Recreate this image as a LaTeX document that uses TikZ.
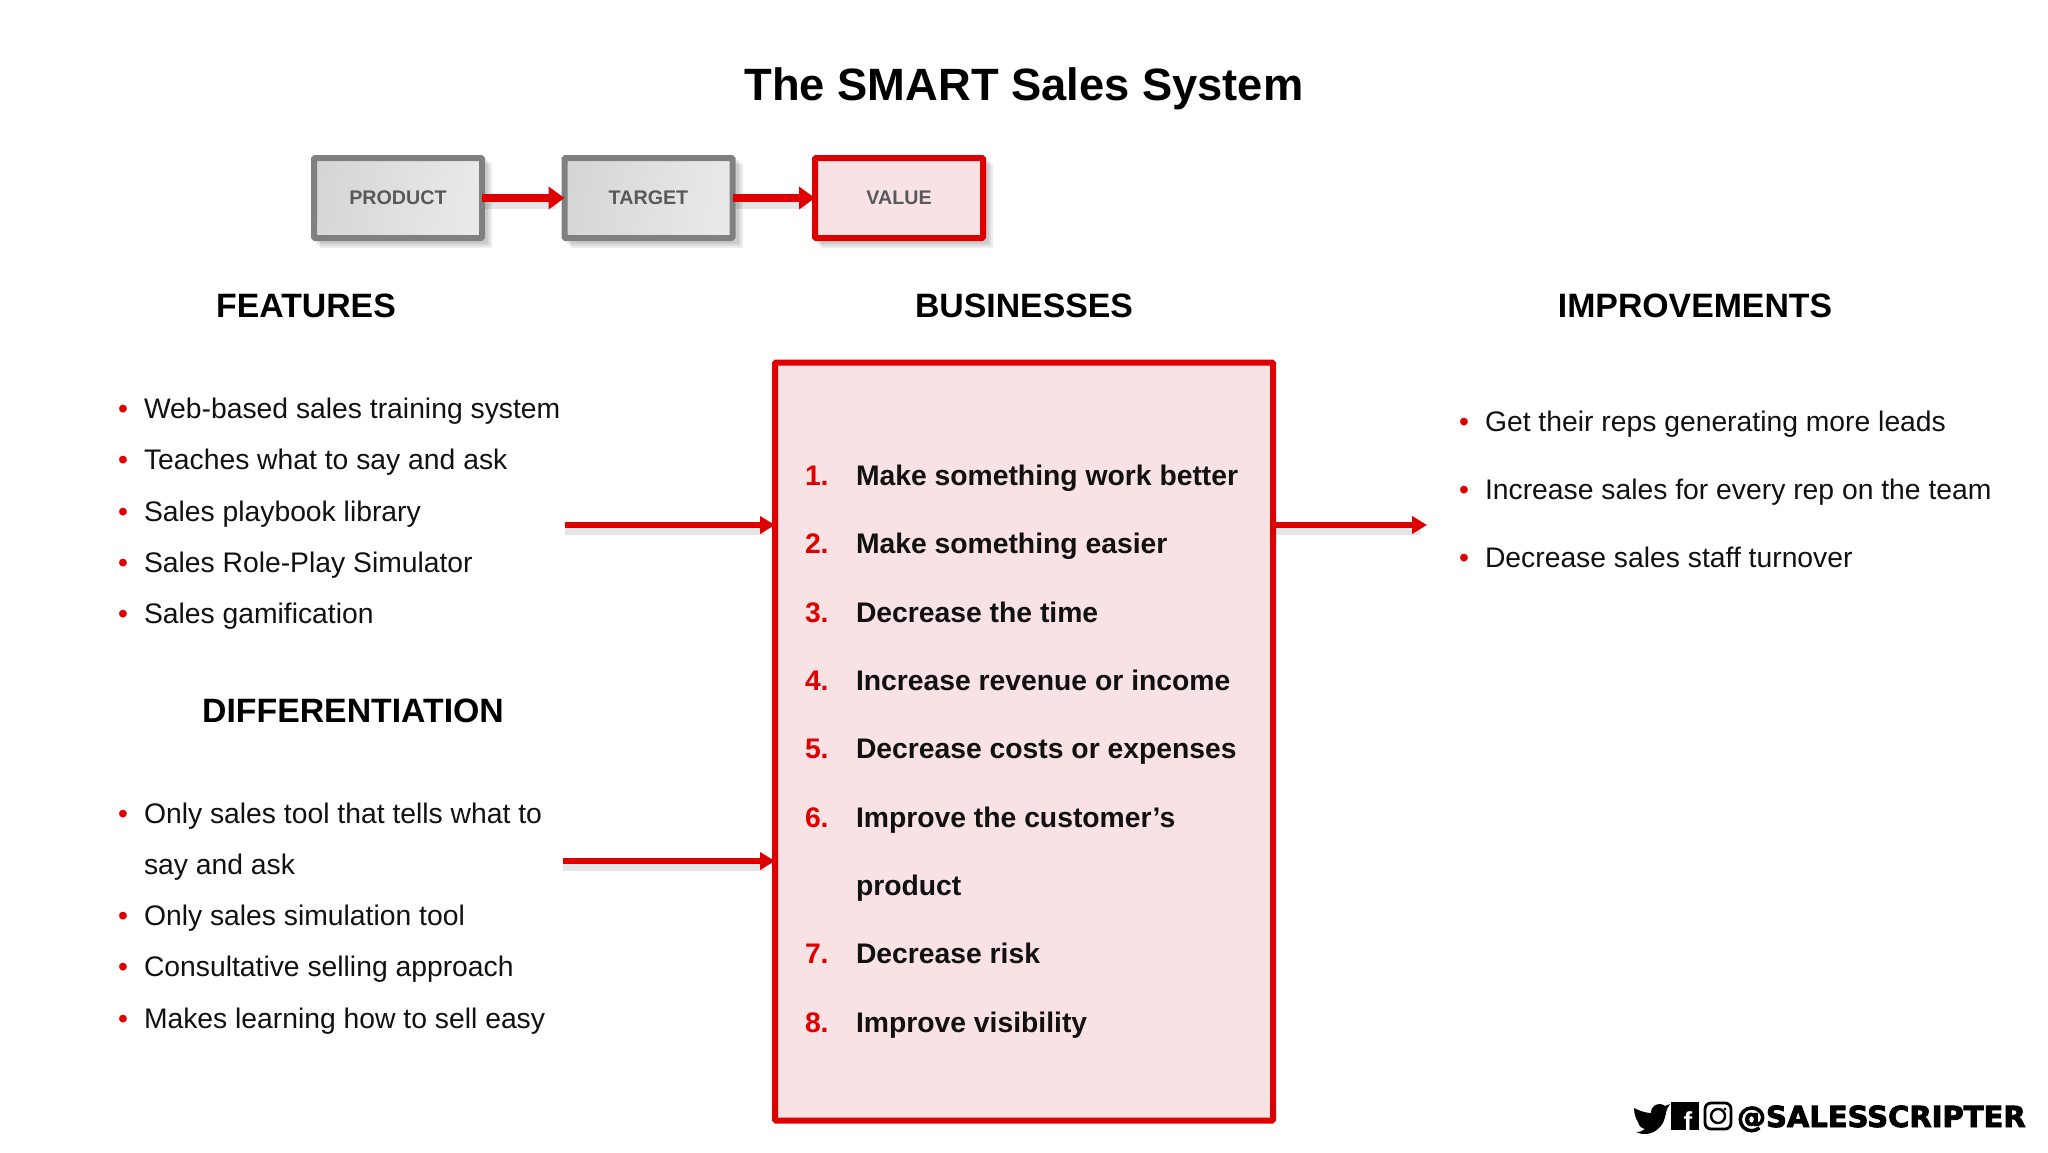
\documentclass[tikz,border=0pt]{standalone}
\usepackage{fontspec}
\setmainfont{Liberation Sans}
\newfontfamily\heavyfont[BoldFont={DejaVu Sans Bold},BoldFeatures={FakeBold=3}]{DejaVu Sans}
\usetikzlibrary{arrows.meta}
\definecolor{sred}{HTML}{DE0000}
\definecolor{spink}{HTML}{F8E2E4}
\definecolor{sgrey}{HTML}{808080}
\definecolor{stxt}{HTML}{595959}
\definecolor{sblack}{HTML}{111111}
\newcommand{\fs}[1]{\fontsize{#1}{#1}\selectfont}
\tikzset{
  x=0.5pt,y=-0.5pt,
  every node/.style={inner sep=0pt,outer sep=0pt},
  titletext/.style={font=\fs{22.65}\bfseries,text=black},
  headtext/.style={font=\fs{16.9}\bfseries,text=black,anchor=base},
  itemtext/.style={font=\fs{14.15},text=sblack,anchor=base west},
  bul/.style={font=\fs{14.15},text=sred,anchor=base},
  numtext/.style={font=\fs{14.15}\bfseries,text=sred,anchor=base west},
  boldtext/.style={font=\fs{14.15}\bfseries,text=sblack,anchor=base west},
  stepbox/.style={minimum width=84pt,minimum height=40pt,line width=3pt,rounded corners=0.6pt,draw=sgrey,left color=gray!32,right color=gray!17,font=\fs{9.85}\bfseries,text=stxt,shading angle=80},
  valuebox/.style={stepbox,draw=sred,left color=spink,right color=spink,fill=spink},
  redarrow/.style={draw=sred,line width=3.2pt,-{Triangle[length=7.5pt,width=8.5pt,fill=sred]}},
  toparrow/.style={draw=sred,line width=3.8pt,-{Triangle[length=8pt,width=11pt,fill=sred]}},
  shad/.style={fill=black,opacity=0.07,draw=none},
  arrshad/.style={draw=black,opacity=0.10,line width=4pt},
}
\begin{document}
\begin{tikzpicture}
\useasboundingbox (0,0) rectangle (2048,1152);
\fill[white] (0,0) rectangle (2048,1152);
\node[titletext] (title) at (1024,89) {The SMART Sales System};
% shadows of the top boxes
\foreach \a/\b in {311/485,562/736,812/986}{
  \foreach \o in {3,5,7}{
    \fill[shad] (\a+\o+2,155+\o+2) rectangle (\b+\o,241+\o);
  }
}
\draw[arrshad] (485,205) -- (556,205);
\draw[arrshad] (736,205) -- (806,205);
\node[stepbox] (product) at (398,198) {PRODUCT};
\node[stepbox] (target) at (648.5,198) {TARGET};
\node[valuebox] (value) at (899,198) {VALUE};
\draw[toparrow] (product.east) -- (target.west);
\draw[toparrow] (target.east) -- (value.west);
% headings
\node[headtext] (hfeat) at (306,317.5) {FEATURES};
\node[headtext] (hbus) at (1024,317) {BUSINESSES};
\node[headtext] (himp) at (1695,317.5) {IMPROVEMENTS};
\node[headtext] (hdiff) at (353,722) {DIFFERENTIATION};
% central box
\node[draw=sred,fill=spink,line width=3pt,rounded corners=0.6pt,minimum width=249pt,minimum height=379pt] (bizbox) at (1024,741.5) {};
% left items
\foreach \n/\y/\t in {a/418.5/Web-based sales training system,b/469.5/Teaches what to say and ask,c/521/Sales playbook library,d/572/Sales Role-Play Simulator,e/623.5/Sales gamification,f/823/Only sales tool that tells what to,h/925/Only sales simulation tool,i/976.5/Consultative selling approach,j/1028/Makes learning how to sell easy}{
  \node[bul] (b\n) at (123,\y) {•};
  \node[itemtext] (t\n) at (144,\y) {\t};
}
\node[itemtext] (tg) at (144,874) {say and ask};
% right items
\foreach \n/\y/\t in {a/431/Get their reps generating more leads,b/499.5/Increase sales for every rep on the team,c/567.5/Decrease sales staff turnover}{
  \node[bul] (rb\n) at (1464,\y) {•};
  \node[itemtext] (rt\n) at (1485,\y) {\t};
}
% numbered list
\foreach \n/\y/\t in {1/485.5/Make something work better,2/553.5/Make something easier,3/622/Decrease the time,4/690.5/Increase revenue or income,5/758.5/Decrease costs or expenses,6/827/Improve the customer’s,7/963.5/Decrease risk,8/1032/Improve visibility}{
  \node[numtext] (n\n) at (805,\y) {\n.};
  \node[boldtext] (m\n) at (856,\y) {\t};
}
\node[boldtext] (m6b) at (856,895.5) {product};
% long arrows
\coordinate (fa) at (565,525);
\coordinate (da) at (563,861);
\coordinate (ia) at (1427,525);
\draw[arrshad] (fa |- 0,531) -- (765,531);
\draw[arrshad] (da |- 0,867) -- (765,867);
\draw[arrshad] (bizbox.east |- 0,531) -- (1420,531);
\draw[redarrow] (fa) -- (bizbox.west |- fa);
\draw[redarrow] (da) -- (bizbox.west |- da);
\draw[redarrow] (bizbox.east |- ia) -- (ia);
% social line
\fill[black] (1634,1108) .. controls (1640,1111) and (1646,1113) .. (1651,1113) .. controls (1651,1106) and (1656,1104) .. (1660,1104) .. controls (1662,1104) and (1664,1105) .. (1665,1106) -- (1670,1104) -- (1667,1109) -- (1665,1117) .. controls (1663,1127) and (1654,1134) .. (1645,1134) .. controls (1641,1134) and (1638,1133) .. (1636,1132) .. controls (1640,1132) and (1643,1131) .. (1645,1129) .. controls (1641,1128) and (1639,1126) .. (1638,1122) .. controls (1636,1119) and (1634,1114) .. (1634,1108) -- cycle;
\fill[black] (1671,1102) rectangle (1699,1130);
\node[font=\fs{13}\bfseries,text=white,anchor=base] (fb) at (1688,1130) {f};
\draw[black,line width=1.4pt,rounded corners=3pt] (1705,1103) rectangle (1731,1129);
\draw[black,line width=1.2pt] (1718,1116) circle (7);
\fill[black] (1725,1109) circle (1.6);
\node[font=\fs{14.5}\heavyfont\bfseries,text=black,anchor=base west] (handle) at (1737,1127) {@SALESSCRIPTER};
\end{tikzpicture}
\end{document}
